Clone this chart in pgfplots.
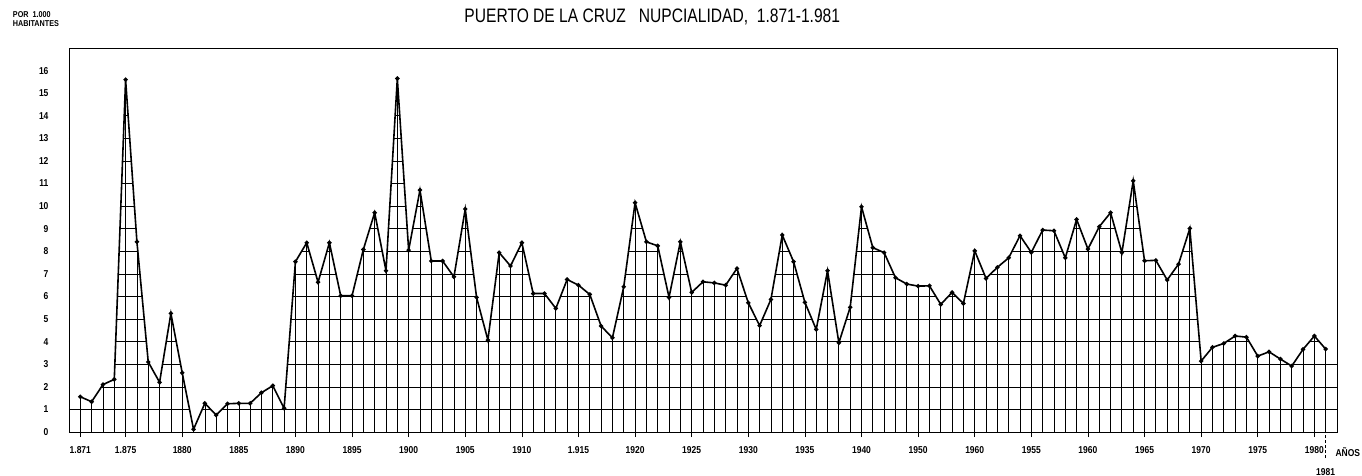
\documentclass[border=0pt]{standalone}
\usepackage{fontspec}
\setmainfont{Liberation Sans}
\newfontfamily\titlefont[FakeStretch=0.8]{Liberation Sans}
\newfontfamily\lblfont[FakeStretch=0.85]{Liberation Sans}
\usepackage{pgfplots}
\usepackage{pgfplotstable}
\pgfplotsset{compat=1.18}

% tasa de nupcialidad por 1.000 habitantes (1870 y 1982 solo prolongan el borde)
\pgfplotstableread{
year rate
1870 1.56
1871 1.56
1872 1.34
1873 2.10
1874 2.33
1875 15.6
1876 8.42
1877 3.10
1878 2.20
1879 5.25
1880 2.62
1881 0.12
1882 1.27
1883 0.75
1884 1.25
1885 1.27
1886 1.27
1887 1.74
1888 2.05
1889 1.05
1890 7.54
1891 8.38
1892 6.63
1893 8.38
1894 6.03
1895 6.03
1896 8.08
1897 9.71
1898 7.14
1899 15.65
1900 8.05
1901 10.71
1902 7.57
1903 7.57
1904 6.87
1905 9.87
1906 5.96
1907 4.07
1908 7.94
1909 7.35
1910 8.38
1911 6.13
1912 6.13
1913 5.47
1914 6.75
1915 6.50
1916 6.09
1917 4.69
1918 4.17
1919 6.43
1920 10.15
1921 8.42
1922 8.24
1923 5.96
1924 8.42
1925 6.18
1926 6.65
1927 6.60
1928 6.50
1929 7.24
1930 5.72
1931 4.71
1932 5.87
1933 8.72
1934 7.54
1935 5.74
1936 4.54
1937 7.14
1938 3.95
1939 5.52
1940 9.97
1941 8.16
1942 7.94
1943 6.83
1944 6.55
1945 6.46
1946 6.47
1947 5.65
1948 6.18
1949 5.69
1950 8.02
1951 6.80
1952 7.29
1953 7.71
1954 8.69
1955 7.95
1956 8.94
1957 8.91
1958 7.71
1959 9.41
1960 8.10
1961 9.09
1962 9.71
1963 7.94
1964 11.12
1965 7.58
1966 7.60
1967 6.73
1968 7.43
1969 9.01
1970 3.14
1971 3.75
1972 3.92
1973 4.25
1974 4.20
1975 3.36
1976 3.55
1977 3.23
1978 2.92
1979 3.66
1980 4.25
1981 3.67
1982 3.67
}\nupcialidad

\begin{document}
\begin{tikzpicture}
\useasboundingbox (-69pt,-43pt) rectangle (1293pt,432pt);
\begin{axis}[
    scale only axis,
    width=1268pt, height=384pt,
    xmin=1870, xmax=1982,
    ymin=0, ymax=17,
    xtick={1871,1875,1880,1885,1890,1895,1900,1905,1910,1915,1920,1925,1930,1935,1940,1945,1950,1955,1960,1965,1970,1975,1980},
    xticklabels={1.871,1.875,1880,1885,1890,1895,1900,1905,1910,1.915,1920,1925,1930,1935,1940,1950,1960,1955,1960,1965,1970,1975,1980},
    minor xtick={1870,...,1982},
    ytick={0,...,16},
    yticklabels={0,1,2,3,4,5,6,7,8,9,10,11,12,13,14,15,16},
    xtick pos=bottom,
    ytick pos=left,
    grid=both,
    major grid style={black, line width=0.6pt},
    minor grid style={black, line width=0.6pt},
    tick align=outside,
    major tick length=5pt,
    minor tick length=0pt,
    xtick style={black, line width=0.6pt},
    ytick style={draw=none},
    axis line style={line width=0.7pt},
    ticklabel style={font=\lblfont\bfseries\fontsize{10}{10}\selectfont},
    xticklabel style={yshift=-6pt},
    yticklabel style={xshift=-12pt},
    extra x ticks={1981},
    extra x tick labels={1981},
    extra x tick style={
        grid=none,
        major tick length=26pt,
        tick style={densely dashed, line width=0.6pt},
        xticklabel style={yshift=-1pt}
    },
    clip=false,
]
% tapa blanca por encima de la curva, para que la cuadricula solo quede debajo
\addplot[fill=white, draw=none] table[x=year, y=rate] {\nupcialidad}
    -- (axis cs:1982,17) -- (axis cs:1870,17) -- cycle;
\addplot[black, line width=1.6pt, mark=*, mark size=1.3pt,
    restrict x to domain=1871:1981] table[x=year, y=rate] {\nupcialidad};
\draw[line width=0.7pt] (rel axis cs:0,0) rectangle (rel axis cs:1,1);
\node[font=\titlefont\fontsize{19.5}{19.5}\selectfont] at (axis description cs:0.46,1.081)
    {PUERTO DE LA CRUZ \ \ NUPCIALIDAD, \ 1.871-1.981};
\node[font=\lblfont\bfseries\fontsize{8.5}{9.5}\selectfont, align=left, anchor=north west]
    at (axis description cs:-0.047,1.105) {POR \ 1.000\\HABITANTES};
\node[font=\lblfont\bfseries\fontsize{10}{10}\selectfont, anchor=west]
    at ([xshift=-5pt, yshift=-20pt]axis description cs:1,0) {AÑOS};
\end{axis}
\end{tikzpicture}
\end{document}
